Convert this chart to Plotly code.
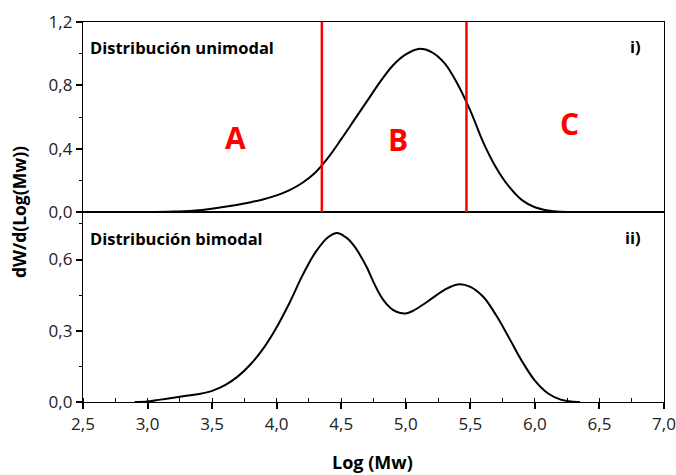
import plotly.graph_objects as go
from plotly.subplots import make_subplots

# Unimodal distribution (panel i)
uni_x = [2.95, 3.0, 3.2, 3.4, 3.6, 3.8, 3.9, 4.0, 4.1, 4.2, 4.3, 4.4, 4.5, 4.6, 4.7, 4.8, 4.9, 5.0, 5.1, 5.2, 5.3, 5.4, 5.5, 5.6, 5.7, 5.8, 5.9, 6.0, 6.1, 6.2, 6.3]
uni_y = [0.0, 0.0, 0.003, 0.011, 0.033, 0.062, 0.081, 0.105, 0.138, 0.185, 0.25, 0.345, 0.46, 0.58, 0.70, 0.82, 0.925, 0.995, 1.03, 1.01, 0.94, 0.81, 0.64, 0.44, 0.28, 0.16, 0.075, 0.03, 0.01, 0.002, 0.0]

# Bimodal distribution (panel ii)
bi_x = [2.9, 3.0, 3.1, 3.2, 3.3, 3.4, 3.5, 3.6, 3.7, 3.8, 3.9, 4.0, 4.1, 4.2, 4.3, 4.4, 4.47, 4.55, 4.6, 4.65, 4.7, 4.75, 4.8, 4.85, 4.9, 4.95, 5.0, 5.05, 5.1, 5.2, 5.3, 5.4, 5.5, 5.6, 5.7, 5.8, 5.9, 6.0, 6.1, 6.2, 6.3, 6.35]
bi_y = [0.0, 0.002, 0.01, 0.018, 0.026, 0.034, 0.047, 0.071, 0.108, 0.16, 0.228, 0.315, 0.418, 0.533, 0.63, 0.695, 0.712, 0.688, 0.657, 0.615, 0.565, 0.505, 0.452, 0.413, 0.388, 0.376, 0.373, 0.382, 0.398, 0.435, 0.472, 0.495, 0.485, 0.443, 0.365, 0.27, 0.172, 0.09, 0.037, 0.01, 0.001, 0.0]

# Region boundaries and labels
cut_lo = 4.35
cut_hi = 5.47
region_labels = ["A", "B", "C"]
region_x = [3.68, 4.94, 6.27]
region_y = [0.47, 0.455, 0.56]

x_ticks = [2.5, 3.0, 3.5, 4.0, 4.5, 5.0, 5.5, 6.0, 6.5, 7.0]
top_ticks = [0.0, 0.4, 0.8, 1.2]
bot_ticks = [0.0, 0.3, 0.6]

FONT = "Open Sans"

fig = make_subplots(rows=2, cols=1, shared_xaxes=True, vertical_spacing=0)

fig.add_trace(go.Scatter(x=uni_x, y=uni_y, mode="lines", line=dict(color="black", width=2, shape="spline", smoothing=1.0),
                         showlegend=False, hoverinfo="skip"), row=1, col=1)
fig.add_trace(go.Scatter(x=bi_x, y=bi_y, mode="lines", line=dict(color="black", width=2, shape="spline", smoothing=1.0),
                         showlegend=False, hoverinfo="skip"), row=2, col=1)

for xc in [cut_lo, cut_hi]:
    fig.add_shape(type="line", x0=xc, x1=xc, y0=0, y1=1.2, xref="x", yref="y",
                  line=dict(color="#ff0000", width=2.5))

for lab, lx, ly in zip(region_labels, region_x, region_y):
    fig.add_annotation(x=lx, y=ly, xref="x", yref="y", text="<b>" + lab + "</b>", showarrow=False,
                       font=dict(family=FONT, size=30, color="#ff0000"))

axis_common = dict(showline=True, linecolor="black", linewidth=1.3, mirror=True, showgrid=False, zeroline=False,
                   automargin=False)

fig.update_xaxes(range=[2.5, 7.0], tickvals=x_ticks, tickformat=".1f", **axis_common)
fig.update_xaxes(row=1, col=1, showticklabels=False, ticks="")
fig.update_xaxes(row=2, col=1, ticks="outside", ticklen=6, tickwidth=1.5, tickcolor="black",
                 minor=dict(ticks="inside", ticklen=4, tickwidth=1.2, dtick=0.25, tick0=2.5, tickcolor="black"),
                 tickfont=dict(family=FONT, size=17, color="#222"))

fig.update_yaxes(row=1, col=1, range=[0, 1.2], tickvals=top_ticks, tickformat=".1f", ticks="outside", ticklen=6,
                 tickwidth=1.5, tickcolor="black",
                 minor=dict(ticks="outside", ticklen=3, tickwidth=1.2, dtick=0.2, tick0=0, tickcolor="black"),
                 tickfont=dict(family=FONT, size=17, color="#222"), **axis_common)
fig.update_yaxes(row=2, col=1, range=[0, 0.8], tickvals=bot_ticks, tickformat=".1f", ticks="outside", ticklen=6,
                 tickwidth=1.5, tickcolor="black",
                 minor=dict(ticks="outside", ticklen=3, tickwidth=1.2, dtick=0.15, tick0=0, tickcolor="black"),
                 tickfont=dict(family=FONT, size=17, color="#222"), **axis_common)

# Panel texts
fig.add_annotation(x=0.008, y=0.932, xref="paper", yref="paper", xanchor="left", yanchor="middle",
                   text="<b>Distribución unimodal</b>", showarrow=False, font=dict(family=FONT, size=16.5, color="black"))
fig.add_annotation(x=0.963, y=0.935, xref="paper", yref="paper", xanchor="right", yanchor="middle",
                   text="<b>i)</b>", showarrow=False, font=dict(family=FONT, size=16.5, color="black"))
fig.add_annotation(x=0.008, y=0.43, xref="paper", yref="paper", xanchor="left", yanchor="middle",
                   text="<b>Distribución bimodal</b>", showarrow=False, font=dict(family=FONT, size=16.5, color="black"))
fig.add_annotation(x=0.963, y=0.434, xref="paper", yref="paper", xanchor="right", yanchor="middle",
                   text="<b>ii)</b>", showarrow=False, font=dict(family=FONT, size=16.5, color="black"))

# Axis titles
fig.add_annotation(x=-0.11, y=0.5, xref="paper", yref="paper", textangle=-90, xanchor="center", yanchor="middle",
                   text="<b>dW/d(Log(Mw))</b>", showarrow=False, font=dict(family=FONT, size=17.5, color="black"))
fig.add_annotation(x=0.498, y=-0.158, xref="paper", yref="paper", xanchor="center", yanchor="middle",
                   text="<b>Log (Mw)</b>", showarrow=False, font=dict(family=FONT, size=18, color="black"))

fig.update_layout(width=676, height=475, margin=dict(l=83, r=12, t=22, b=73),
                  paper_bgcolor="white", plot_bgcolor="white", separators=",.",
                  font=dict(family=FONT, color="black"))

fig.write_html("out.html")
